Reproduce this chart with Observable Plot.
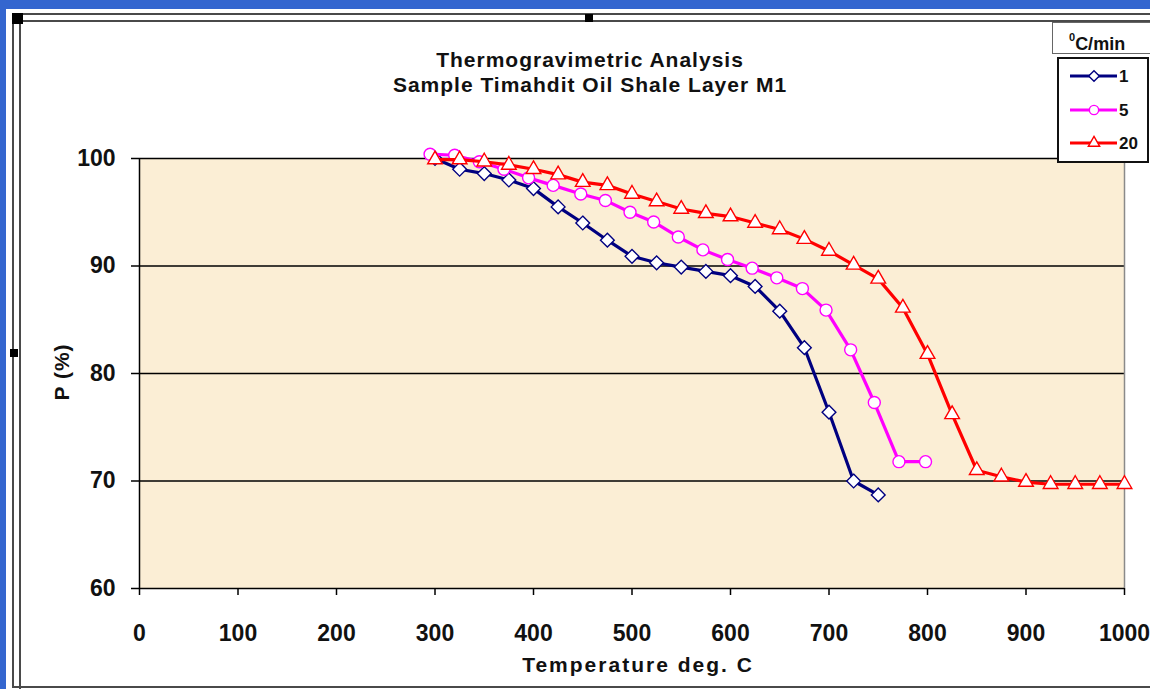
<!DOCTYPE html>
<html>
<head>
<meta charset="utf-8">
<script src="https://cdn.jsdelivr.net/npm/d3@7"></script>
<script src="https://cdn.jsdelivr.net/npm/@observablehq/plot@0.6"></script>
<style>
  html, body { margin: 0; padding: 0; background: #3466cf; }
  #wrap { position: relative; width: 1150px; height: 689px; overflow: hidden; background: #3466cf; font-family: "Liberation Sans", Arial, sans-serif; }
  .abs { position: absolute; }
  .txt { color: #111; font-weight: bold; white-space: nowrap; }
  #chart svg { position: absolute; left: 0; top: 0; }
</style>
</head>
<body>
<div id="wrap">
  <div class="abs" style="left:6px;top:9px;width:1160px;height:700px;background:#fff"></div>
  <div class="abs" style="left:12px;top:13px;width:1160px;height:671px;border:2px solid #4a4a4a"></div>
  <div class="abs" style="left:19px;top:20px;width:1160px;height:700px;border-left:2px solid #4a4a4a;border-top:2px solid #4a4a4a"></div>
  <div class="abs" style="left:12px;top:13px;width:11px;height:11px;background:#000"></div>
  <div class="abs" style="left:585px;top:14px;width:8px;height:8px;background:#000"></div>
  <div class="abs" style="left:10px;top:349px;width:8px;height:8px;background:#000"></div>
  <div id="chart"></div>
  <div class="abs txt" style="left:290px;top:47px;width:600px;text-align:center;font-size:21px;line-height:25px;letter-spacing:1px">Thermogravimetric Analysis<br>Sample Timahdit Oil Shale Layer M1</div>
  <div class="abs txt" style="left:338px;top:652px;width:600px;text-align:center;font-size:21px;line-height:26px;letter-spacing:2px">Temperature deg. C</div>
  <div class="abs txt" style="left:62px;top:372px;font-size:21px;line-height:24px;letter-spacing:1px;transform:translate(-50%,-50%) rotate(-90deg)">P (%)</div>
  <div class="abs txt" style="left:1052px;top:22px;width:110px;height:32px;border:1.5px solid #666;background:#fff;font-size:18px;line-height:32px;padding-left:16px;box-sizing:border-box"><sup style="font-size:11px;position:relative;top:-2px">0</sup>C/min</div>
  <div class="abs" id="legend" style="left:1057px;top:57px;width:88px;height:102px;border:2px solid #111;background:#fff"></div>
</div>
<script>
// ---- data ----
const temps1 = [300, 325, 350, 375, 400, 425, 450, 475, 500, 525, 550, 575, 600, 625, 650, 675, 700, 725, 750];
const pct1   = [100.0, 99.0, 98.6, 98.0, 97.2, 95.5, 94.0, 92.4, 90.9, 90.3, 89.9, 89.5, 89.1, 88.1, 85.8, 82.4, 76.4, 70.0, 68.7];

const temps5 = [295, 320, 345, 370, 395, 420, 448, 473, 498, 522, 547, 572, 597, 622, 647, 673, 697, 722, 746, 771, 798];
const pct5   = [100.4, 100.3, 99.7, 99.0, 98.2, 97.5, 96.7, 96.1, 95.0, 94.1, 92.7, 91.5, 90.6, 89.8, 88.9, 87.9, 85.9, 82.2, 77.3, 71.8, 71.8];

const temps20 = [300, 325, 350, 375, 400, 425, 450, 475, 500, 525, 550, 575, 600, 625, 650, 675, 700, 725, 750, 775, 800, 825, 850, 875, 900, 925, 950, 975, 1000];
const pct20   = [99.9, 99.9, 99.7, 99.4, 99.0, 98.5, 97.8, 97.5, 96.7, 96.0, 95.3, 94.9, 94.6, 94.0, 93.4, 92.5, 91.4, 90.1, 88.8, 86.1, 81.8, 76.2, 71.0, 70.4, 69.9, 69.7, 69.7, 69.7, 69.7];

const seriesNames   = ["1", "5", "20"];
const seriesColors  = ["#000080", "#ff00ff", "#ff0000"];
const seriesSymbols = ["diamond2", "circle", "triangle2"];
const seriesR       = [6.2, 6.0, 7.0];

const xTicks = [0, 100, 200, 300, 400, 500, 600, 700, 800, 900, 1000];
const yTicks = [60, 70, 80, 90, 100];
const gridY  = [70, 80, 90, 100];

// ---- build tables ----
const toRows = (T, P) => T.map((t, i) => ({T: t, P: P[i]}));
const tables = [toRows(temps1, pct1), toRows(temps5, pct5), toRows(temps20, pct20)];

const marks = [
  Plot.frame({fill: "#fbeed5", stroke: "none"}),
  Plot.ruleY(gridY, {stroke: "#000", strokeWidth: 1.3}),
  Plot.ruleX([1000], {stroke: "#8a8a8a", strokeWidth: 1.5}),
  Plot.ruleX([0], {stroke: "#000", strokeWidth: 1.5}),
  Plot.ruleY([60], {stroke: "#000", strokeWidth: 1.5}),
  Plot.axisX({ticks: xTicks, tickFormat: d => String(d), tickSize: 7, tickPadding: 29, fontSize: 23, fontWeight: "bold", label: null, stroke: "#000", strokeWidth: 1.5}),
  Plot.axisY({ticks: yTicks, tickFormat: d => String(d), tickSize: 8, tickPadding: 16, fontSize: 23, fontWeight: "bold", label: null, stroke: "#000", strokeWidth: 1.5})
];
tables.forEach((rows, k) => {
  marks.push(Plot.line(rows, {x: "T", y: "P", stroke: seriesColors[k], strokeWidth: 3.2}));
  marks.push(Plot.dot(rows, {x: "T", y: "P", symbol: seriesSymbols[k], r: seriesR[k], fill: "#fff", stroke: seriesColors[k], strokeWidth: 1.4}));
});

const chart = Plot.plot({
  width: 1150,
  height: 689,
  marginLeft: 139,
  marginRight: 26,
  marginTop: 158,
  marginBottom: 101,
  style: {background: "transparent", fontFamily: "'Liberation Sans', Arial, sans-serif", color: "#111", overflow: "visible"},
  x: {domain: [0, 1000], label: null},
  y: {domain: [60, 100], label: null},
  marks
});
document.getElementById("chart").appendChild(chart);

// ---- legend ----
const legendRowsY = [17, 51, 84];
const lg = d3.select("#legend").append("svg")
  .attr("width", 88).attr("height", 102)
  .style("position", "absolute").style("left", "0px").style("top", "0px");
seriesNames.forEach((name, k) => {
  const y = legendRowsY[k];
  lg.append("line").attr("x1", 11).attr("x2", 58).attr("y1", y).attr("y2", y)
    .attr("stroke", seriesColors[k]).attr("stroke-width", 3);
  lg.append("path")
    .attr("d", d3.symbol(k === 0 ? d3.symbolDiamond2 : k === 1 ? d3.symbolCircle : d3.symbolTriangle2, Math.PI * seriesR[k] * seriesR[k] * 0.6)())
    .attr("transform", `translate(35,${y})`)
    .attr("fill", "#fff").attr("stroke", seriesColors[k]).attr("stroke-width", 1.4);
  lg.append("text").attr("x", 60).attr("y", y).attr("dy", "0.36em")
    .attr("font-family", "'Liberation Sans', Arial, sans-serif").attr("font-weight", "bold")
    .attr("font-size", 17).attr("fill", "#111").text(name);
});
</script>
</body>
</html>
